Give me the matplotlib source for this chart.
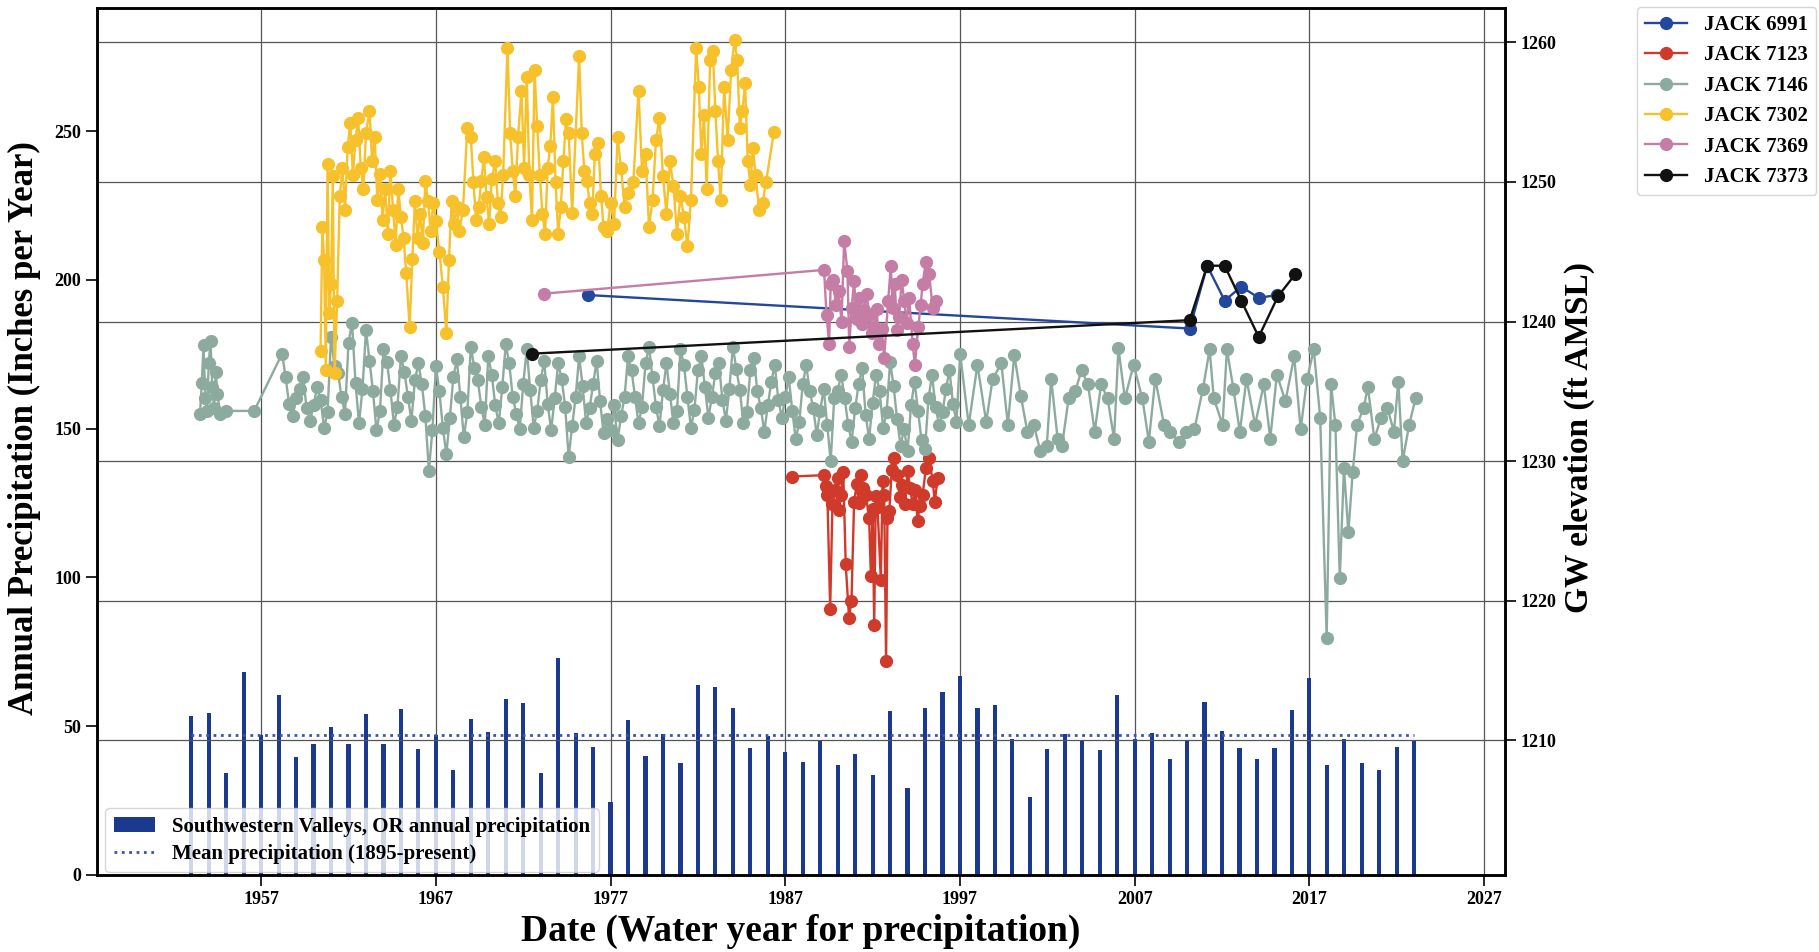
import matplotlib
matplotlib.use("Agg")
import matplotlib.pyplot as plt

plt.rcParams["font.family"] = ["Liberation Serif", "DejaVu Serif"]
plt.rcParams["font.weight"] = "bold"

# ── Precipitation (left axis) ────────────────────────────────────────────────
precip_years = list(range(1953, 2024))
precip_in = [53.4, 54.6, 34.2, 68.3, 47.1, 60.5, 39.8, 43.9, 49.6, 43.9,
             54.0, 43.9, 55.7, 42.2, 47.1, 35.3, 52.5, 48.2, 59.0, 57.9,
             34.2, 72.8, 47.6, 43.1, 24.6, 52.1, 40.1, 47.4, 37.7, 63.9,
             63.3, 56.0, 42.6, 46.8, 41.2, 38.1, 45.4, 37.0, 40.7, 33.5,
             55.1, 29.1, 56.2, 61.4, 66.9, 56.2, 57.1, 45.7, 26.3, 42.5,
             47.3, 45.4, 42.0, 60.5, 45.8, 47.8, 39.1, 45.0, 58.2, 48.4,
             42.7, 39.1, 42.6, 55.5, 66.3, 36.9, 45.6, 37.6, 35.3, 43.1,
             45.3]
mean_precip = 46.9

# ── Groundwater wells (right axis) ───────────────────────────────────────────
j6991_t = [1975.70, 2010.15, 2011.15, 2012.15, 2013.10, 2014.10, 2015.15]
j6991_z = [1241.9, 1239.5, 1244.0, 1241.5, 1242.5, 1241.7, 1241.9]

j7123_t = [1987.41, 1989.22, 1989.32, 1989.41, 1989.57, 1989.70, 1989.85,
           1989.99, 1990.08, 1990.18, 1990.32, 1990.46, 1990.65, 1990.79,
           1990.94, 1991.10, 1991.20, 1991.32, 1991.45, 1991.61, 1991.80,
           1991.90, 1992.00, 1992.09, 1992.18, 1992.28, 1992.47, 1992.57,
           1992.66, 1992.77, 1992.85, 1992.95, 1993.10, 1993.23, 1993.42,
           1993.55, 1993.71, 1993.85, 1994.00, 1994.15, 1994.29, 1994.45,
           1994.57, 1994.70, 1994.86, 1995.05, 1995.24, 1995.43, 1995.56,
           1995.72]
j7123_z = [1228.9, 1229.0, 1228.2, 1227.6, 1219.4, 1226.9, 1227.9,
           1228.8, 1226.5, 1227.6, 1229.2, 1222.6, 1218.8, 1220.0,
           1227.1, 1228.4, 1227.0, 1229.0, 1228.1, 1227.6, 1225.9,
           1221.8, 1226.6, 1218.3, 1227.5, 1226.7, 1221.5, 1228.6,
           1227.6, 1215.7, 1225.9, 1226.4, 1229.4, 1230.2, 1229.0,
           1227.4, 1228.3, 1226.9, 1229.3, 1228.1, 1226.9, 1227.9,
           1225.7, 1226.8, 1227.6, 1229.5, 1230.2, 1228.6, 1227.1,
           1228.8]

j7146_t = [1953.50, 1953.60, 1953.70, 1953.80, 1953.90, 1954.00, 1954.10,
           1954.20, 1954.30, 1954.40, 1954.50, 1954.65, 1955.00, 1956.60,
           1958.2, 1958.4, 1958.6, 1958.8,
           1959.0, 1959.2, 1959.4, 1959.6, 1959.8,
           1960.0, 1960.2, 1960.4, 1960.6, 1960.8,
           1961.0, 1961.2, 1961.4, 1961.6, 1961.8,
           1962.0, 1962.2, 1962.4, 1962.6, 1962.8,
           1963.0, 1963.2, 1963.4, 1963.6, 1963.8,
           1964.0, 1964.2, 1964.4, 1964.6, 1964.8,
           1965.0, 1965.2, 1965.4, 1965.6, 1965.8,
           1966.0, 1966.2, 1966.4, 1966.6, 1966.8,
           1967.0, 1967.2, 1967.4, 1967.6, 1967.8,
           1968.0, 1968.2, 1968.4, 1968.6, 1968.8,
           1969.0, 1969.2, 1969.4, 1969.6, 1969.8,
           1970.0, 1970.2, 1970.4, 1970.6, 1970.8,
           1971.0, 1971.2, 1971.4, 1971.6, 1971.8,
           1972.0, 1972.2, 1972.4, 1972.6, 1972.8,
           1973.0, 1973.2, 1973.4, 1973.6, 1973.8,
           1974.0, 1974.2, 1974.4, 1974.6, 1974.8,
           1975.0, 1975.2, 1975.4, 1975.6, 1975.8,
           1976.0, 1976.2, 1976.4, 1976.6, 1976.8,
           1977.0, 1977.2, 1977.4, 1977.6, 1977.8,
           1978.0, 1978.2, 1978.4, 1978.6, 1978.8,
           1979.0, 1979.2, 1979.4, 1979.6, 1979.8,
           1980.0, 1980.2, 1980.4, 1980.6, 1980.8,
           1981.0, 1981.2, 1981.4, 1981.6, 1981.8,
           1982.0, 1982.2, 1982.4, 1982.6, 1982.8,
           1983.0, 1983.2, 1983.4, 1983.6, 1983.8,
           1984.0, 1984.2, 1984.4, 1984.6, 1984.8,
           1985.0, 1985.2, 1985.4, 1985.6, 1985.8,
           1986.0, 1986.2, 1986.4, 1986.6, 1986.8,
           1987.0, 1987.2, 1987.4, 1987.6, 1987.8,
           1988.0, 1988.2, 1988.4, 1988.6, 1988.8,
           1989.0, 1989.2, 1989.4, 1989.6, 1989.8,
           1990.0, 1990.2, 1990.4, 1990.6, 1990.8,
           1991.0, 1991.2, 1991.4, 1991.6, 1991.8,
           1992.0, 1992.2, 1992.4, 1992.6, 1992.8,
           1993.0, 1993.2, 1993.4, 1993.6, 1993.8,
           1994.0, 1994.2, 1994.4, 1994.6, 1994.8,
           1995.0, 1995.2, 1995.4, 1995.6, 1995.8,
           1996.0, 1996.2, 1996.4, 1996.6, 1996.8,
           1997.01,
           1997.50, 1998.00, 1998.50, 1998.87, 1999.37, 1999.74, 2000.11,
           2000.48, 2000.86, 2001.23, 2001.60, 2001.97, 2002.22, 2002.59,
           2002.84, 2003.22, 2003.59, 2003.96, 2004.33, 2004.71, 2005.08,
           2005.45, 2005.82, 2006.07, 2006.44, 2006.94, 2007.44, 2007.81,
           2008.18, 2008.68, 2009.05, 2009.55, 2009.92, 2010.42, 2010.91,
           2011.29, 2011.53, 2012.03, 2012.28, 2012.65, 2013.02, 2013.40,
           2013.89, 2014.39, 2014.76, 2015.14, 2015.63, 2016.13, 2016.50,
           2016.87, 2017.25, 2017.62, 2017.99, 2018.24, 2018.49, 2018.74,
           2018.98, 2019.23, 2019.48, 2019.73, 2020.10, 2020.35, 2020.72,
           2021.10, 2021.47, 2021.84, 2022.09, 2022.34, 2022.71, 2023.08]
j7146_z = [1233.4, 1235.6, 1238.3, 1234.5, 1233.6, 1237.0, 1238.6,
           1235.3, 1233.8, 1236.4, 1234.8, 1233.4, 1233.6, 1233.6,
           1237.7, 1236.0, 1234.1, 1233.2,
           1234.5, 1235.2, 1236.0, 1233.8, 1232.9,
           1234.0, 1235.3, 1234.4, 1232.4, 1233.5,
           1238.9, 1236.8, 1236.3, 1234.6, 1233.4,
           1238.5, 1239.9, 1235.6, 1232.7, 1235.2,
           1239.4, 1237.2, 1235.0, 1232.2, 1233.6,
           1238.0, 1237.1, 1235.1, 1232.6, 1233.9,
           1237.5, 1236.4, 1234.6, 1232.9, 1235.8,
           1237.0, 1235.5, 1233.2, 1229.3, 1232.2,
           1236.8, 1235.0, 1232.4, 1230.5, 1233.1,
           1236.0, 1237.3, 1234.6, 1231.7, 1233.5,
           1238.2, 1236.7, 1235.8, 1233.9, 1232.6,
           1237.5, 1236.2, 1234.0, 1232.7, 1235.3,
           1238.4, 1237.0, 1234.6, 1233.4, 1232.3,
           1235.5, 1238.0, 1235.1, 1232.4, 1233.6,
           1235.8, 1237.2, 1234.1, 1232.2, 1234.5,
           1237.0, 1235.9, 1233.9, 1230.3, 1232.5,
           1234.6, 1237.5, 1235.4, 1232.7, 1233.8,
           1235.5, 1237.2, 1234.3, 1232.0, 1233.0,
           1232.2, 1234.0, 1231.5, 1233.2, 1234.6,
           1237.5, 1236.5, 1234.6, 1232.7, 1233.9,
           1237.0, 1238.2, 1236.0, 1233.9, 1232.5,
           1235.1, 1237.0, 1234.8, 1232.7, 1233.6,
           1238.0, 1236.9, 1234.6, 1232.4, 1233.7,
           1236.5, 1237.5, 1235.3, 1233.1, 1234.6,
           1236.3, 1237.0, 1234.4, 1232.9, 1235.2,
           1238.2, 1236.6, 1235.1, 1232.7, 1233.5,
           1236.5, 1237.4, 1235.0, 1233.8, 1232.1,
           1234.0, 1235.7, 1236.9, 1234.4, 1233.1,
           1234.6, 1236.0, 1233.6, 1231.6, 1232.8,
           1235.5, 1236.9, 1235.0, 1233.8, 1231.9,
           1233.6, 1235.2, 1232.6, 1230.0, 1234.5,
           1235.0, 1236.2, 1234.5, 1232.6, 1231.4,
           1233.8, 1235.5, 1236.7, 1233.3, 1231.6,
           1234.2, 1236.2, 1235.0, 1232.4, 1233.5,
           1237.1, 1235.4, 1233.0, 1231.1, 1232.3,
           1230.7, 1234.0, 1235.7, 1233.6, 1231.5,
           1230.9, 1234.5, 1236.2, 1233.9, 1232.6,
           1233.5, 1235.2, 1236.5, 1234.1, 1232.8,
           1237.7,
           1232.6, 1236.9, 1232.8, 1235.9, 1237.0, 1232.6, 1237.6,
           1234.7, 1232.1, 1232.6, 1230.7, 1231.1, 1235.9, 1231.6,
           1231.1, 1234.5, 1235.0, 1236.5, 1235.5, 1232.1, 1235.5,
           1234.5, 1231.6, 1238.1, 1234.5, 1236.9, 1234.5, 1231.4,
           1235.9, 1232.6, 1232.1, 1231.4, 1232.1, 1232.3, 1235.2,
           1238.0, 1234.5, 1232.6, 1238.0, 1235.2, 1232.1, 1235.9,
           1232.6, 1235.5, 1231.6, 1236.2, 1234.3, 1237.5, 1232.3,
           1235.9, 1238.0, 1233.1, 1217.3, 1235.5, 1232.6, 1221.6,
           1229.5, 1224.9, 1229.2, 1232.6, 1233.8, 1235.3, 1231.6,
           1233.1, 1233.8, 1232.1, 1235.7, 1230.0, 1232.6, 1234.5]

j7302_t = [1960.40, 1960.50, 1960.60, 1960.70, 1960.80, 1960.90, 1961.00,
           1961.10, 1961.20, 1961.35, 1961.50, 1961.65, 1961.80, 1961.95,
           1962.10, 1962.25, 1962.40, 1962.55, 1962.70, 1962.85, 1963.00,
           1963.20, 1963.35, 1963.50, 1963.65, 1963.80, 1963.95, 1964.10,
           1964.25, 1964.40, 1964.55, 1964.70, 1964.85, 1965.00, 1965.15,
           1965.30, 1965.50, 1965.65, 1965.80, 1965.95, 1966.10, 1966.25,
           1966.40, 1966.55, 1966.70, 1966.85, 1967.00, 1967.20, 1967.40,
           1967.60, 1967.75, 1967.90, 1968.05, 1968.20, 1968.35, 1968.55,
           1968.80, 1969.00, 1969.15, 1969.30, 1969.45, 1969.60, 1969.75,
           1969.90, 1970.05, 1970.20, 1970.40, 1970.55, 1970.70, 1970.85,
           1971.10, 1971.25, 1971.40, 1971.55, 1971.70, 1971.90, 1972.05,
           1972.20, 1972.35, 1972.50, 1972.65, 1972.80, 1972.95, 1973.10,
           1973.25, 1973.40, 1973.55, 1973.70, 1973.85, 1974.00, 1974.15,
           1974.30, 1974.45, 1974.60, 1974.80, 1975.20, 1975.35, 1975.50,
           1975.65, 1975.80, 1975.95, 1976.10, 1976.30, 1976.45, 1976.60,
           1976.80, 1977.00, 1977.20, 1977.40, 1977.60, 1977.80, 1978.00,
           1978.30, 1978.60, 1978.80, 1979.00, 1979.20, 1979.40, 1979.60,
           1979.80, 1980.00, 1980.20, 1980.40, 1980.60, 1980.80, 1981.00,
           1981.20, 1981.40, 1981.60, 1981.90, 1982.05, 1982.20, 1982.35,
           1982.50, 1982.70, 1982.85, 1983.00, 1983.15, 1983.30, 1983.50,
           1983.70, 1983.90, 1984.10, 1984.25, 1984.40, 1984.55, 1984.70,
           1984.85, 1985.00, 1985.15, 1985.30, 1985.50, 1985.70, 1985.90,
           1986.35]
j7302_z = [1237.9, 1246.8, 1244.4, 1236.5, 1251.3, 1240.6, 1242.7,
           1250.4, 1236.3, 1241.5, 1249.0, 1251.0, 1248.0, 1252.5,
           1254.2, 1250.5, 1253.0, 1254.6, 1251.0, 1249.5, 1253.5,
           1255.1, 1251.5, 1253.2, 1248.7, 1250.6, 1247.3, 1249.5,
           1246.3, 1250.8, 1248.0, 1245.5, 1249.5, 1247.5, 1246.0,
           1243.5, 1239.6, 1244.5, 1248.6, 1246.0, 1247.7, 1245.6,
           1250.1, 1248.6, 1246.5, 1248.5, 1247.2, 1245.0, 1242.5,
           1239.2, 1244.4, 1248.6, 1247.0, 1248.2, 1246.5, 1248.0,
           1253.9, 1253.2, 1250.0, 1247.3, 1248.2, 1250.1, 1251.8,
           1248.9, 1247.0, 1250.2, 1251.5, 1248.5, 1247.5, 1250.5,
           1259.6, 1253.5, 1250.8, 1249.0, 1253.2, 1256.5, 1251.0,
           1257.5, 1250.5, 1247.3, 1258.0, 1254.0, 1250.5, 1247.7,
           1246.3, 1251.0, 1252.6, 1256.1, 1250.0, 1246.3, 1248.2,
           1251.5, 1254.5, 1253.5, 1247.8, 1259.0, 1253.5, 1250.8,
           1250.1, 1248.5, 1247.7, 1252.0, 1252.8, 1249.0, 1246.8,
           1246.5, 1248.5, 1247.0, 1253.2, 1251.0, 1248.2, 1249.2,
           1250.0, 1256.5, 1250.8, 1252.0, 1246.8, 1248.7, 1253.0,
           1254.6, 1250.4, 1247.7, 1251.5, 1249.7, 1246.3, 1249.0,
           1247.5, 1245.4, 1248.7, 1259.6, 1256.8, 1252.0, 1254.8,
           1249.5, 1258.7, 1259.4, 1255.1, 1251.5, 1248.7, 1256.8,
           1253.0, 1258.0, 1260.2, 1258.7, 1253.9, 1255.1, 1257.1,
           1251.5, 1249.8, 1252.4, 1250.5, 1248.0, 1248.5, 1250.0,
           1253.6]

j7369_t = [1973.20, 1989.22, 1989.36, 1989.51, 1989.60, 1989.75, 1989.89,
           1990.05, 1990.22, 1990.37, 1990.56, 1990.66, 1990.80, 1990.94,
           1991.08, 1991.23, 1991.38, 1991.52, 1991.66, 1991.80, 1991.95,
           1992.09, 1992.23, 1992.37, 1992.52, 1992.66, 1992.89, 1993.04,
           1993.15, 1993.27, 1993.40, 1993.52, 1993.66, 1993.81, 1993.95,
           1994.09, 1994.29, 1994.42, 1994.61, 1994.75, 1994.86, 1995.05,
           1995.24, 1995.43, 1995.62]
j7369_z = [1242.0, 1243.7, 1240.5, 1238.4, 1242.7, 1243.0, 1241.2,
           1242.2, 1240.0, 1245.8, 1243.6, 1238.2, 1241.0, 1242.9,
           1240.2, 1241.7, 1239.8, 1240.8, 1242.0, 1240.5, 1239.2,
           1239.6, 1240.9, 1238.4, 1239.5, 1237.4, 1241.5, 1244.0,
           1241.0, 1242.7, 1239.4, 1240.3, 1243.0, 1241.5, 1239.9,
           1241.7, 1238.4, 1236.9, 1239.6, 1241.2, 1242.7, 1244.3,
           1243.4, 1241.0, 1241.5]

j7373_t = [1972.50, 2010.15, 2011.15, 2012.15, 2013.10, 2014.10, 2015.20, 2016.20]
j7373_z = [1237.7, 1240.1, 1244.0, 1244.0, 1241.5, 1238.9, 1241.8, 1243.4]

wells = [("JACK 6991", j6991_t, j6991_z, "#23479c"),
         ("JACK 7123", j7123_t, j7123_z, "#cf3a2a"),
         ("JACK 7146", j7146_t, j7146_z, "#8daa9f"),
         ("JACK 7302", j7302_t, j7302_z, "#f7c12c"),
         ("JACK 7369", j7369_t, j7369_z, "#c57ca5"),
         ("JACK 7373", j7373_t, j7373_z, "#111111")]

xticks = list(range(1957, 2028, 10))

# ── Figure ───────────────────────────────────────────────────────────────────
fig = plt.figure(figsize=(18.19, 9.52), dpi=100)
ax = fig.add_axes([0.0533, 0.0809, 0.7741, 0.9107])

bars = ax.bar(precip_years, precip_in, width=0.24, color="#1b3a8f", zorder=2)
mean_ln, = ax.plot([precip_years[0], precip_years[-1]], [mean_precip, mean_precip],
                   ls=":", lw=2.0, color="#3b55a8", zorder=3)

ax.set_xlim(1947.6, 2028.2)
ax.set_ylim(0, 291.4)
ax.set_xticks(xticks)
ax.set_yticks([0, 50, 100, 150, 200, 250])
ax.grid(axis="x", color="#555555", lw=0.9)
ax.set_axisbelow(True)
ax.tick_params(axis="both", labelsize=13, length=8, width=1.2)

ax.set_xlabel("Date (Water year for precipitation)", fontsize=27, fontweight="bold")
ax.xaxis.set_label_coords(0.5, -0.045)
ax.set_ylabel("Annual Precipitation (Inches per Year)", fontsize=25, fontweight="bold")
ax.yaxis.set_label_coords(-0.040, 0.515)

ax.legend([bars, mean_ln],
          ["Southwestern Valleys, OR annual precipitation",
           "Mean precipitation (1895-present)"],
          loc="lower left", bbox_to_anchor=(0.006, 0.003), borderaxespad=0,
          prop={"weight": "bold", "size": 15}, labelspacing=0.35)

ax2 = ax.twinx()
for name, t, z, c in wells:
    ax2.plot(t, z, "-o", color=c, lw=1.7, ms=8.5, label=name)
ax2.set_ylim(1200.36, 1262.46)
ax2.set_yticks([1210, 1220, 1230, 1240, 1250, 1260])
ax2.grid(axis="y", color="#555555", lw=0.9)
ax2.tick_params(axis="y", labelsize=13, length=8, width=1.2)
ax2.set_ylabel("GW elevation (ft AMSL)", fontsize=24, fontweight="bold")
ax2.yaxis.set_label_coords(1.042, 0.505)

for a in (ax, ax2):
    for s in a.spines.values():
        s.set_linewidth(1.8)
        s.set_color("black")

fig.legend(*ax2.get_legend_handles_labels(), loc="upper left",
           bbox_to_anchor=(0.9, 0.993), borderaxespad=0,
           prop={"weight": "bold", "size": 15}, labelspacing=0.5)

fig.savefig("out.png", dpi=100, facecolor="white")
